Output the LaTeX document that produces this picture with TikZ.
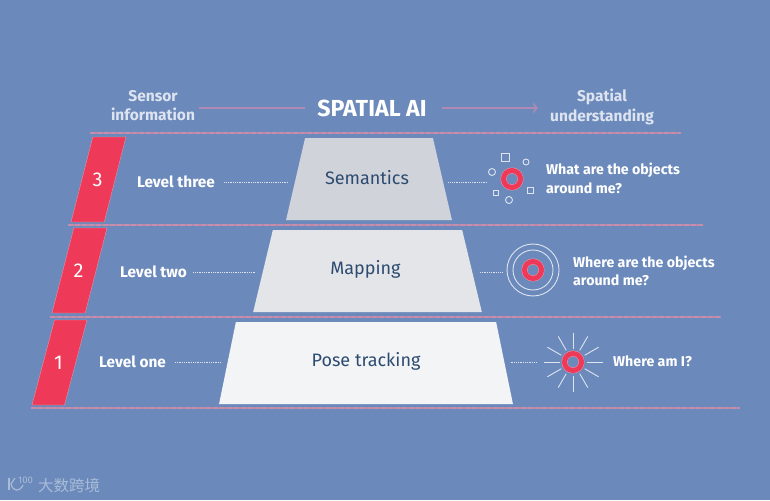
\documentclass[tikz,border=0pt]{standalone}
\usepackage{fontspec}
\setmainfont{Fira Sans}
\newfontfamily\cjkfont{Noto Sans CJK SC}
\usetikzlibrary{shapes.geometric,arrows.meta}
\definecolor{fond}{HTML}{6B8ABB}
\definecolor{rouge}{HTML}{EE3A58}
\definecolor{rose}{HTML}{F29AAC}
\definecolor{regle}{HTML}{AE8AB4}
\definecolor{reglefine}{HTML}{CB8CA8}
\definecolor{clair}{HTML}{DDE4F0}
\definecolor{encre}{HTML}{2D4B70}
\definecolor{marque}{HTML}{A9BBD7}
\definecolor{etageA}{HTML}{D0D3D9}
\definecolor{etageB}{HTML}{E3E5E8}
\definecolor{etageC}{HTML}{F2F4F6}
\begin{document}
\begin{tikzpicture}[x=1pt,y=-1pt]
	% Styles
	\tikzstyle{fleche}=[-{Straight Barb[length=4pt,width=9pt]},draw=regle,line width=1.4pt]
	\tikzstyle{ligne}=[draw=regle,line width=1.4pt]
	\tikzstyle{lignefine}=[draw=reglefine,line width=1.4pt,dash pattern=on 5pt off 2pt]
	\tikzstyle{pointille}=[draw=clair,line width=0.8pt,dash pattern=on 1pt off 0.8pt]
	\tikzstyle{etage}=[trapezium,trapezium stretches=true,inner sep=0pt,outer sep=0pt,minimum height=82pt,text=encre,font=\fontsize{18}{22}\selectfont]
	\tikzstyle{numero}=[trapezium,trapezium stretches=true,trapezium left angle=42.8,trapezium right angle=137.2,minimum width=55pt,minimum height=85pt,inner sep=0pt,outer sep=0pt,text height=14pt,text depth=0pt,fill=rouge,draw=rose,line width=0.3pt,text=white,font=\fontsize{20}{24}\selectfont]
	\tikzstyle{niveau}=[text=white,inner sep=0pt,text height=10pt,text depth=0pt,font=\fontsize{15.4}{18}\selectfont\bfseries]
	\tikzstyle{question}=[text=white,inner sep=0pt,anchor=west,align=left,font=\fontsize{14.2}{18.6}\selectfont\bfseries]
	\tikzstyle{entete}=[text=clair,inner sep=0pt,align=center,font=\fontsize{15.5}{19.5}\selectfont\bfseries]
	\tikzstyle{anneau}=[circle,inner sep=0pt,minimum size=17pt,draw=rose,line width=0.4pt,double=rouge,double distance=5pt]
	\tikzstyle{trait}=[draw=clair,line width=0.9pt]
	% Fond
	\path[fill=fond,use as bounding box] (0,0) rectangle (770,500);
	% Regles
	\foreach \i/\xa/\xb/\yy in {a/90/681/133,b/68/703/225,c/50/721/317,d/31/740/408}{
		\coordinate (r\i g) at (\xa,\yy);
		\coordinate (r\i d) at (\xb,\yy);
		\draw[ligne] (r\i g)--(r\i d);
		\draw[lignefine] (r\i g)--(r\i d);
	}
	% Entetes
	\node[entete] (capteur) at (153,105.5) {Sensor\\information};
	\node[text=white,inner sep=0pt,font=\fontsize{23.2}{27}\selectfont\bfseries] (titre) at (372,108) {SPATIAL AI};
	\node[entete] (comprendre) at (602,107) {Spatial\\understanding};
	% Numeros
	\node[numero] (num3) at (98.5,179.5) {\kern-2pt 3};
	\node[numero] (num2) at (79.5,270.5) {\kern-2pt 2};
	\node[numero] (num1) at (59.5,362.5) {\kern-2pt 1};
	% Etages
	\node[etage,fill=etageA,minimum width=166pt,trapezium angle=55,text height=14pt,text depth=3pt] (sem) at (369,179) {\kern-4pt Semantics};
	\node[etage,fill=etageB,minimum width=229pt,trapezium angle=68,text height=12pt,text depth=5pt] (map) at (367.5,271) {\kern-4pt Mapping};
	\node[etage,fill=etageC,minimum width=294pt,trapezium angle=67.5,text height=12pt,text depth=5pt] (pose) at (366,363) {Pose tracking};
	% Niveaux
	\node[niveau] (lvl3) at (176,182) {Level three};
	\node[niveau] (lvl2) at (153.5,272) {Level two};
	\node[niveau] (lvl1) at (132.5,362) {Level one};
	% Anneaux
	\node[anneau] (ring3) at (512,179) {};
	\node[anneau] (ring2) at (533,270) {};
	\node[anneau] (ring1) at (573,362) {};
	% Questions
	\node[question] (q3) at (546,178.5) {What are the objects\\around me?};
	\node[question] (q2) at (573,271) {Where are the objects\\around me?};
	\node[question] (q1) at (613,361) {Where am I?};
	% Autour des anneaux
	\draw[trait] (501,153) rectangle (509,161);
	\draw[trait] (527,187) rectangle (533,193);
	\draw[trait] (493.5,190.5) rectangle (498.5,195.5);
	\draw[trait] (526,162) circle (3pt);
	\draw[trait] (492,172) circle (3.5pt);
	\draw[trait] (509,200) circle (3.5pt);
	\draw[trait] (ring2) circle (20pt);
	\draw[trait] (ring2) circle (26pt);
	\foreach \a in {0,30,...,330}
		\draw[trait] (ring1)++(\a:13.5pt)--++(\a:16pt);
	% Arcs
	\draw[ligne,shorten <=4pt,shorten >=12pt] (capteur.east |- titre.west)--(titre.west);
	\draw[fleche,shorten <=15pt,shorten >=12pt] (titre.east)--(comprendre.west |- titre.east);
	\draw[pointille,shorten <=9pt,shorten >=8pt] (lvl3.east)--(lvl3.east -| sem.west);
	\draw[pointille,shorten <=6pt,shorten >=7pt] (lvl2.east)--(lvl2.east -| map.west);
	\draw[pointille,shorten <=9pt,shorten >=6pt] (lvl1.east)--(lvl1.east -| pose.west);
	\draw[pointille,shorten <=6pt,shorten >=16pt] (sem.east |- lvl3.east)--(ring3.west |- lvl3.east);
	\draw[pointille,shorten <=8pt,shorten >=22pt] (map.east |- lvl2.east)--(ring2.west |- lvl2.east);
	\draw[pointille,shorten <=6pt,shorten >=28pt] (pose.east |- lvl1.east)--(ring1.west |- lvl1.east);
	% Marque
	\draw[draw=marque,line width=1.2pt] (9,478)--(9,490);
	\draw[draw=marque,line width=1.2pt] (15,478)--(11,484) .. controls (13,492) and (20,492) .. (23,485);
	\node[text=marque,inner sep=0pt,font=\fontsize{9.5}{9.5}\selectfont] (cent) at (25.5,480.5) {100};
	\node[text=marque,inner sep=0pt,anchor=west,font=\cjkfont\fontsize{15.5}{18}\selectfont] (nom) at (38,485.5) {大数跨境};
\end{tikzpicture}
\end{document}
